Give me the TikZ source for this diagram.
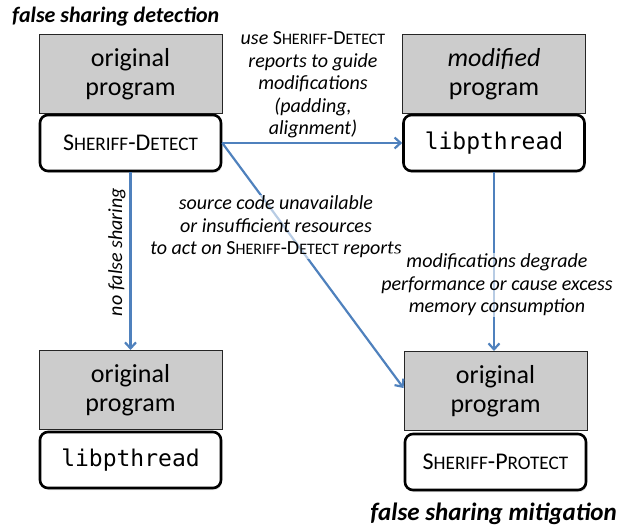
\documentclass[tikz,border=0pt]{standalone}
\usepackage{fontspec}
\setmainfont{Carlito}
\setmonofont{DejaVu Sans Mono}
\usetikzlibrary{arrows.meta,shadows}
\newcommand\mysmc[1]{\scalebox{0.8}{#1}}
\newcommand\shdetect{S\mysmc{HERIFF}-D\mysmc{ETECT}}
\newcommand\shprotect{S\mysmc{HERIFF}-P\mysmc{ROTECT}}
\definecolor{arrowblue}{RGB}{79,129,189}
\tikzset{
  graybox/.style={draw=black!85, line width=1pt, fill=black!20, minimum width=183pt,
    minimum height=79pt, inner sep=0pt, align=center,
    font=\fontsize{26}{29}\selectfont},
  whitebox/.style={draw=black, line width=2.6pt, fill=white, rounded corners=8pt,
    minimum width=181pt, minimum height=56pt, inner sep=0pt, align=center,
    drop shadow={opacity=0.25, shadow xshift=1pt, shadow yshift=-2pt}},
  sctext/.style={font=\fontsize{24}{28}\selectfont},
  monotext/.style={font=\ttfamily\fontsize{23}{27}\selectfont},
  lbl/.style={align=center, inner sep=1pt, font=\itshape\fontsize{20}{22.5}\selectfont},
  fadebg/.style={fill=white, fill opacity=0.6, text opacity=1},
  ttl/.style={inner sep=0pt, font=\bfseries\itshape\fontsize{22}{26}\selectfont},
  arr/.style={draw=arrowblue, line width=2.2pt, -{Straight Barb[length=6pt,width=11pt,line width=2.2pt]}}
}
\begin{document}
\begin{tikzpicture}[x=1pt,y=-1pt]
\useasboundingbox (0,0) rectangle (624,529);

\node[ttl, anchor=west] (t1) at (12,17) {false sharing detection};
\node[ttl, anchor=east, font=\bfseries\itshape\fontsize{25}{29}\selectfont] (t2) at (617,514) {false sharing mitigation};

% top left
\node[graybox] (g1) at (130.5,74) {original\\program};
\node[whitebox, sctext] (w1) at (130.5,143) {\shdetect};
% top right
\node[graybox] (g2) at (494,74) {\textit{modified}\\program};
\node[whitebox, monotext] (w2) at (494,143) {libpthread};
% bottom left
\node[graybox] (g3) at (130.5,390) {original\\program};
\node[whitebox, monotext] (w3) at (130.5,460) {libpthread};
% bottom right
\node[graybox] (g4) at (495.5,391) {original\\program};
\node[whitebox, sctext] (w4) at (495.5,462) {\shprotect};

% connectors
\draw[arr] (w1.east) -- (w2.west);
\draw[arr] (w1.south) -- (g3.north);
\draw[arr] (w2.south) -- (w2.south |- g4.north);
\draw[arr] (w1.east) -- ([yshift=3pt]g4.west);

% labels
\node[lbl] (l1) at (313,85) {use \upshape\shdetect\\reports to guide\\modifications\\(padding,\\alignment)};
\node[lbl, rotate=90] (l2) at (117,252) {no false sharing};
\node[lbl, fadebg] (l3) at (276,227) {source code unavailable\\or insufficient resources\\to act on {\upshape\shdetect} reports};
\node[lbl, fadebg] (l4) at (497,285) {modifications degrade\\performance or cause excess\\memory consumption};
\end{tikzpicture}
\end{document}
